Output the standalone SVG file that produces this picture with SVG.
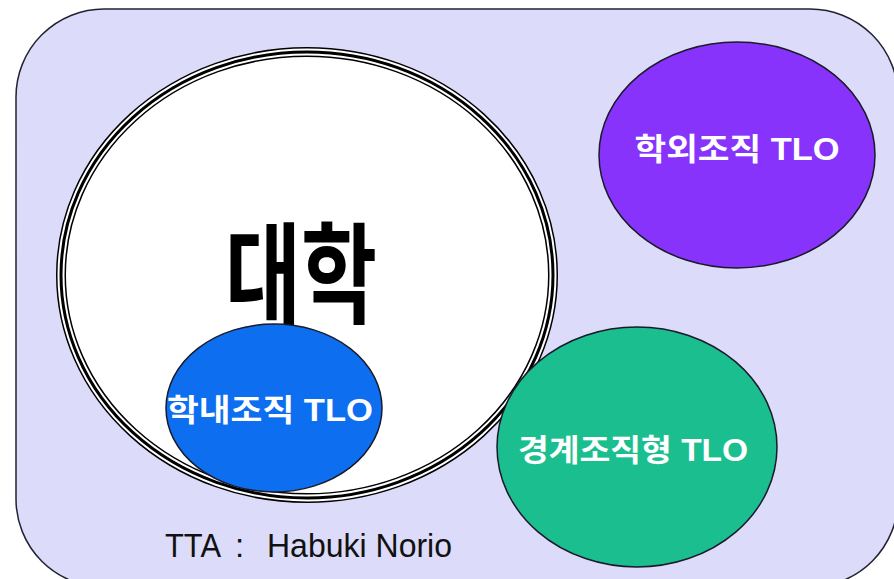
<svg xmlns="http://www.w3.org/2000/svg" width="894" height="579" viewBox="0 0 894 579">
<style>
.lbl{font-family:"Liberation Sans","Noto Sans CJK KR",sans-serif;font-weight:bold;fill:#ffffff;text-anchor:middle}
.node{stroke:#1a1a2a;stroke-width:1.5}
.cr{font-family:"Liberation Sans",sans-serif;font-size:33px;fill:#111}
</style>
<rect width="894" height="579" fill="#ffffff"/>
<g id="background">
<rect x="16" y="9" width="882" height="578" rx="88" ry="88" fill="#dcdcfa" stroke="#222233" stroke-width="1.5"/>
</g>
<g id="university">
<ellipse cx="307" cy="275" rx="246" ry="223" fill="#ffffff" stroke="#000" stroke-width="10"/>
<ellipse cx="307" cy="275" rx="246" ry="223" fill="none" stroke="#fff" stroke-width="7"/>
<ellipse cx="307" cy="275" rx="246" ry="223" fill="none" stroke="#000" stroke-width="3"/>
<text x="301" y="315" font-family="'Noto Sans CJK KR',sans-serif" font-weight="bold" font-size="110" text-anchor="middle" textLength="152" lengthAdjust="spacingAndGlyphs" fill="#000">대학</text>
</g>
<g id="external-tlo">
<ellipse class="node" cx="737" cy="155" rx="138" ry="113" fill="#8833fc"/>
<text class="lbl" x="737" y="160" font-size="31" textLength="205" lengthAdjust="spacingAndGlyphs">학외조직 TLO</text>
</g>
<g id="boundary-tlo">
<ellipse class="node" cx="637" cy="447" rx="140" ry="120" fill="#1bbf8f"/>
<text class="lbl" x="633" y="461" font-size="31" textLength="230" lengthAdjust="spacingAndGlyphs">경계조직형 TLO</text>
</g>
<g id="internal-tlo">
<ellipse class="node" cx="274" cy="408" rx="108" ry="84" fill="#0d6ef0"/>
<text class="lbl" x="270" y="421" font-size="31" textLength="206" lengthAdjust="spacingAndGlyphs">학내조직 TLO</text>
</g>
<g id="connectors"></g>
<g id="credit">
<text class="cr" x="165" y="557" textLength="56" lengthAdjust="spacingAndGlyphs">TTA</text>
<text class="cr" x="235" y="557">:</text>
<text class="cr" x="267" y="557" textLength="185" lengthAdjust="spacingAndGlyphs">Habuki Norio</text>
</g>
</svg>
